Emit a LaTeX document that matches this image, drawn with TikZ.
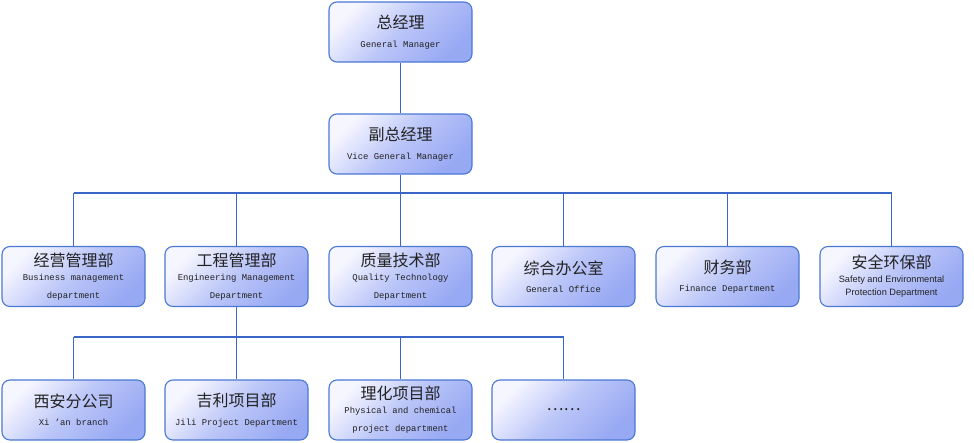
\documentclass[tikz,border=0pt]{standalone}
\usepackage{fontspec}
\newfontfamily\cjk{Noto Sans CJK SC}
\newfontfamily\en{Liberation Mono}
\newfontfamily\ens{Liberation Sans}
\definecolor{edge}{HTML}{4A78D2}
\definecolor{wire}{HTML}{3A66C8}
\definecolor{lite}{HTML}{F6F6FF}
\definecolor{mid}{HTML}{BAC5F8}
\definecolor{deep}{HTML}{98A9F3}
\definecolor{txt}{HTML}{222222}
\begin{document}
\begin{tikzpicture}[x=1pt,y=-1pt,
  box/.style={draw=edge, line width=1.1pt, rounded corners=8pt,
    minimum width=143pt, minimum height=60pt, inner sep=0pt,
    left color=lite, right color=deep, middle color=mid, shading angle=45,
    align=center, text=txt, font=\fontsize{9}{18}\selectfont},
  wirel/.style={draw=wire, line width=1.4pt},
]
\newcommand{\zhl}[1]{{\cjk\fontsize{16}{18}\selectfont #1}}
\newcommand{\enl}[1]{{\en\fontsize{8.9}{18}\selectfont #1}}
\newcommand{\ensl}[1]{{\ens\fontsize{9.2}{18}\selectfont #1}}
\useasboundingbox (0,0) rectangle (974,442);

\node[box] (gm) at (400.5,32) {\zhl{总经理}\\[1pt]\enl{General Manager}};
\node[box] (vgm) at (400.5,144) {\zhl{副总经理}\\[1pt]\enl{Vice General Manager}};

\node[box] (d1) at (73.5,276.5) {\zhl{经营管理部}\\[-4pt]\enl{Business management}\\\enl{department}};
\node[box] (d2) at (236.5,276.5) {\zhl{工程管理部}\\[-4pt]\enl{Engineering Management}\\\enl{Department}};
\node[box] (d3) at (400.5,276.5) {\zhl{质量技术部}\\[-4pt]\enl{Quality Technology}\\\enl{Department}};
\node[box] (d4) at (563.5,276.5) {\zhl{综合办公室}\\[0.5pt]\enl{General Office}};
\node[box] (d5) at (727.5,276.5) {\zhl{财务部}\\[0.5pt]\enl{Finance Department}};
\node[box] (d6) at (891.5,276.5) {\zhl{安全环保部}\\[-4pt]\ensl{Safety and Environmental}\\[-5pt]\ensl{Protection Department}};

\node[box] (s1) at (73.5,410) {\zhl{西安分公司}\\[0.5pt]\enl{Xi ’an branch}};
\node[box] (s2) at (236.5,410) {\zhl{吉利项目部}\\[0.5pt]\enl{Jili Project Department}};
\node[box] (s3) at (400.5,410) {\zhl{理化项目部}\\[-4pt]\enl{Physical and chemical}\\\enl{project department}};
\node[box] (s4) at (563.5,410) {\zhl{……}};

\coordinate (bus) at (0,193);
\coordinate (sub) at (0,337);

\draw[wirel] (gm.south) -- (vgm.north);
\draw[wirel] (vgm.south) -- (vgm.south |- bus);
\draw[wirel] (d1.north |- bus) -- (d6.north |- bus);
\foreach \n in {d1,d2,d3,d4,d5,d6} \draw[wirel] (\n.north |- bus) -- (\n.north);
\draw[wirel] (d2.south) -- (d2.south |- sub);
\draw[wirel] (s1.north |- sub) -- (s4.north |- sub);
\foreach \n in {s1,s2,s3,s4} \draw[wirel] (\n.north |- sub) -- (\n.north);
\end{tikzpicture}
\end{document}
